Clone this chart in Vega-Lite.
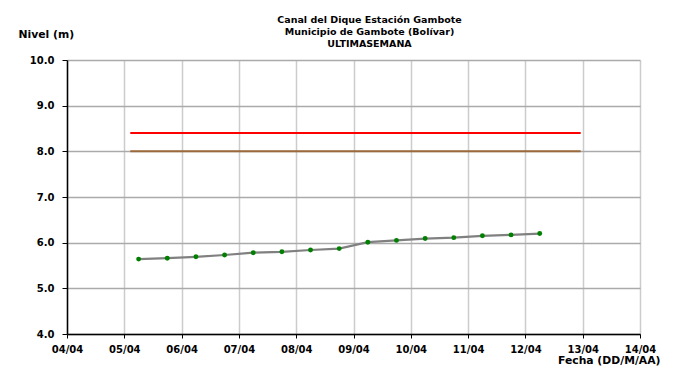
{
  "$schema": "https://vega.github.io/schema/vega-lite/v6.json",
  "autosize": "none",
  "width": 573,
  "height": 274,
  "padding": {"left": 67, "top": 60, "right": 34, "bottom": 41},
  "background": "white",
  "config": {
    "font": "DejaVu Sans",
    "view": {"stroke": null},
    "axis": {"labelFont": "DejaVu Sans", "labelFontWeight": "bold", "labelFontSize": 10, "labelColor": "black", "titleFont": "DejaVu Sans", "titleFontWeight": "bold", "titleFontSize": 10.8, "titleColor": "black", "domainColor": "black", "domainWidth": 1.5, "tickColor": "black"}
  },
  "title": {
    "text": ["Canal del Dique  Estación Gambote", "Municipio de Gambote (Bolívar)", "ULTIMASEMANA"],
    "font": "DejaVu Sans",
    "fontWeight": "bold",
    "fontSize": 9.5,
    "lineHeight": 12,
    "color": "black",
    "anchor": "middle",
    "dx": 16,
    "offset": -20
  },
  "datasets": {
    "niveles": [
      {"fecha": "2023-04-05T06:00:00Z", "nivel": 5.64},
      {"fecha": "2023-04-05T18:00:00Z", "nivel": 5.66},
      {"fecha": "2023-04-06T06:00:00Z", "nivel": 5.69},
      {"fecha": "2023-04-06T18:00:00Z", "nivel": 5.73},
      {"fecha": "2023-04-07T06:00:00Z", "nivel": 5.78},
      {"fecha": "2023-04-07T18:00:00Z", "nivel": 5.80},
      {"fecha": "2023-04-08T06:00:00Z", "nivel": 5.84},
      {"fecha": "2023-04-08T18:00:00Z", "nivel": 5.87},
      {"fecha": "2023-04-09T06:00:00Z", "nivel": 6.01},
      {"fecha": "2023-04-09T18:00:00Z", "nivel": 6.05},
      {"fecha": "2023-04-10T06:00:00Z", "nivel": 6.09},
      {"fecha": "2023-04-10T18:00:00Z", "nivel": 6.11},
      {"fecha": "2023-04-11T06:00:00Z", "nivel": 6.15},
      {"fecha": "2023-04-11T18:00:00Z", "nivel": 6.17},
      {"fecha": "2023-04-12T06:00:00Z", "nivel": 6.20}
    ],
    "umbrales": [
      {"umbral": "Alerta roja", "inicio": "2023-04-05T02:30:00Z", "fin": "2023-04-12T23:10:00Z", "nivel": 8.4},
      {"umbral": "Alerta naranja", "inicio": "2023-04-05T02:30:00Z", "fin": "2023-04-12T23:10:00Z", "nivel": 8.0}
    ]
  },
  "layer": [
    {
      "data": {"name": "umbrales"},
      "mark": {"type": "rule", "strokeWidth": 2},
      "encoding": {
        "x": {
          "field": "inicio", "type": "temporal",
          "scale": {"type": "utc", "domain": [{"year": 2023, "month": 4, "date": 4, "utc": true}, {"year": 2023, "month": 4, "date": 14, "utc": true}]},
          "axis": {
            "title": "Fecha (DD/M/AA)",
            "labelExpr": "utcFormat(datum.value, '%d/%m')",
            "tickCount": {"interval": "day", "step": 1},
            "grid": true,
            "gridColor": "#cccccc",
            "gridWidth": 1.5,
            "tickSize": 4,
            "labelPadding": 6,
            "labelFlush": false,
            "labelOverlap": false,
            "titleAnchor": "end",
            "titleAlign": "right",
            "titleX": 593,
            "titleY": 26,
            "titleBaseline": "middle"
          }
        },
        "x2": {"field": "fin"},
        "y": {
          "field": "nivel", "type": "quantitative",
          "scale": {"domain": [4, 10], "nice": false, "zero": false},
          "axis": {
            "title": "Nivel (m)",
            "titleAngle": 0,
            "titleAlign": "left",
            "titleBaseline": "middle",
            "titleX": -49,
            "titleY": -26,
            "values": [4, 4.5, 5, 5.5, 6, 6.5, 7, 7.5, 8, 8.5, 9, 9.5, 10],
            "labelExpr": "datum.value % 1 === 0 ? format(datum.value, '.1f') : ''",
            "grid": true,
            "gridColor": {"condition": {"test": "datum.value % 1 === 0", "value": "#aaaaaa"}, "value": "#d6d6d6"},
            "gridWidth": 1.5,
            "tickColor": {"condition": {"test": "datum.value % 1 === 0", "value": "black"}, "value": "transparent"},
            "tickSize": 5,
            "labelPadding": 8
          }
        },
        "color": {
          "field": "umbral", "type": "nominal",
          "scale": {"domain": ["Alerta roja", "Alerta naranja"], "range": ["#ff0000", "#9c6a3a"]},
          "legend": null
        }
      }
    },
    {
      "data": {"name": "niveles"},
      "mark": {"type": "line", "color": "#808080", "strokeWidth": 2.2, "point": {"filled": true, "color": "#008000", "size": 24, "opacity": 1}},
      "encoding": {
        "x": {"field": "fecha", "type": "temporal"},
        "y": {"field": "nivel", "type": "quantitative"}
      }
    }
  ]
}
